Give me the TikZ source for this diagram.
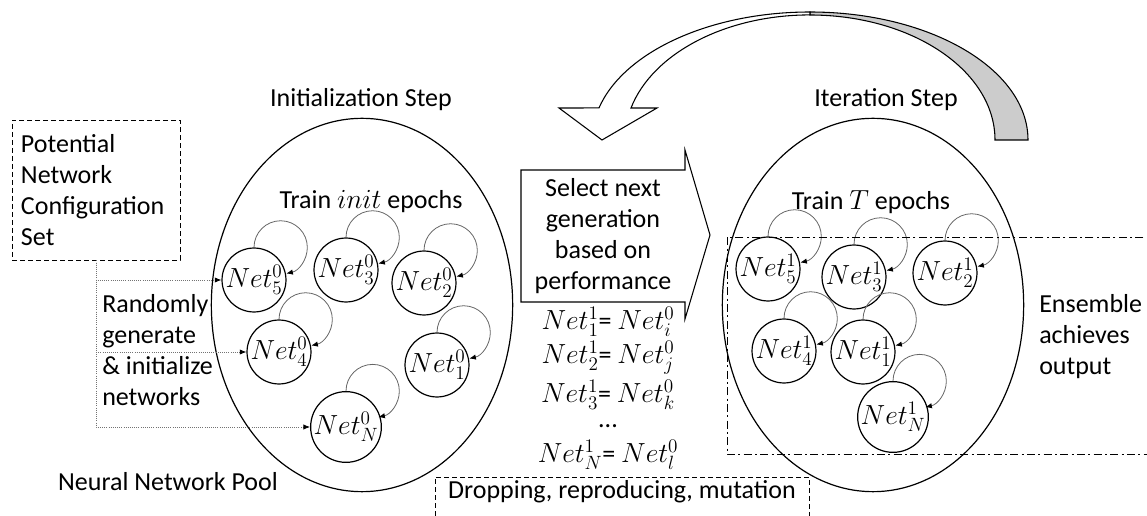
\documentclass[tikz,border=0pt]{standalone}
\usepackage{fontspec}
\setmainfont{Carlito}
\usetikzlibrary{shapes.geometric,arrows.meta}
\begin{document}
\begin{tikzpicture}[x=0.75pt,y=0.75pt,
  every node/.style={font=\fontsize{19.5pt}{23.25pt}\selectfont, inner sep=0pt},
  net/.style={draw, circle, line width=0.9pt, minimum size=46.5pt, inner sep=0pt},
  pool/.style={draw, ellipse, line width=0.9pt, minimum width=226pt, minimum height=280pt},
  tip/.style={-{Latex[length=5pt,width=4pt,color=black]}},
  selfloop/.style={draw=black!60, line width=0.6pt, tip},
  feed/.style={draw=black!55, densely dotted, line width=0.6pt, tip},
  dashbox/.style={draw, line width=0.6pt, dash pattern=on 3.5pt off 2.5pt},
  dashdotbox/.style={draw, line width=0.6pt, dash pattern=on 6pt off 2.5pt on 1.5pt off 2.5pt},
]
\useasboundingbox (0,0) rectangle (1147,-516);

% curved feedback arrow: back face (grey) and front face with head
\draw[line width=0.8pt, fill=black!20] (810,-12)
  arc[start angle=90, end angle=0, x radius=163.5pt, y radius=96pt]
  -- (995,-140)
  arc[start angle=0, end angle=90, x radius=138.75pt, y radius=93.75pt]
  -- cycle;
\draw[line width=0.8pt, fill=white] (810,-12)
  arc[start angle=90, end angle=165.5, x radius=163.5pt, y radius=96pt]
  -- (559,-108) -- (602,-140) -- (657,-108) -- (631,-108)
  arc[start angle=165.2, end angle=90, x radius=138.75pt, y radius=93.75pt]
  -- cycle;

% the two network pools
\node[pool] (poolA) at (362,-305) {};
\node[pool] (poolB) at (873,-305) {};
\node (stepA) at (361,-100) {Initialization Step};
\node (stepB) at (886,-100) {Iteration Step};
\node (trainA) at (371,-202) {Train $init$ epochs};
\node (trainB) at (871,-202) {Train $T$ epochs};
\node (poolname) at (168,-482) {Neural Network Pool};

% configuration set and random initialisation
\node[dashbox, minimum width=126pt, minimum height=105pt, text width=112.5pt,
      inner xsep=6.75pt, align=left] (config) at (96,-190)
  {Potential\\Network\\Configuration\\Set};
\node[anchor=west, align=left] (randinit) at (102,-350)
  {Randomly\\generate\\\& initialize\\networks};

% generation 0
\node[net] (a5) at (254,-280) {$Net^0_5$};
\node[net] (a3) at (346,-270) {$Net^0_3$};
\node[net] (a2) at (424,-283) {$Net^0_2$};
\node[net] (a4) at (279,-352) {$Net^0_4$};
\node[net] (a1) at (437,-365) {$Net^0_1$};
\node[net] (aN) at (346,-427) {$Net^0_N$};

% generation 1
\node[net] (b5) at (768,-269) {$Net^1_5$};
\node[net] (b3) at (854,-277) {$Net^1_3$};
\node[net] (b2) at (945,-273) {$Net^1_2$};
\node[net] (b4) at (784,-351) {$Net^1_4$};
\node[net] (b1) at (863,-352) {$Net^1_1$};
\node[net] (bN) at (893,-417) {$Net^1_N$};

% training self-loops: three-quarter circles from the top round to the right side
\foreach \n in {a5,a3,a2,a4,a1,aN,b5,b3,b2,b4,b1,bN}
  \draw[selfloop] (\n.north) arc[start angle=180, end angle=-78, radius=20pt];

% feeding the pool
\draw[feed] (config.south) |- (a5.west);
\draw[feed] (config.south) |- (a4.west);
\draw[feed] (config.south) |- (aN.west);

% selection callout
\node[align=center] (select) at (603,-236)
  {Select next\\generation\\based on\\performance};
\draw[line width=0.8pt] (521,-170) -- (685,-170) -- (685,-150) -- (710,-235)
  -- (685,-319) -- (685,-302) -- (521,-302) -- cycle;

% mapping between generations
\node (eqa) at (608,-322) {$Net^1_1$= $Net^0_i$};
\node (eqb) at (608,-358) {$Net^1_2$= $Net^0_j$};
\node (eqc) at (608,-395) {$Net^1_3$= $Net^0_k$};
\node (eqd) at (608,-426) {...};
\node (eqe) at (608,-455) {$Net^1_N$= $Net^0_l$};

\node (ops) at (622,-492) {Dropping, reproducing, mutation};
\draw[dashbox] (435,-540) |- (809,-477) -- (809,-540);

% ensemble region
\draw[dashdotbox] (1160,-237) -- (727,-237) -- (727,-454) -- (1160,-454);
\node[anchor=west, align=left] (ensemble) at (1039,-337)
  {Ensemble\\achieves\\output};
\end{tikzpicture}
\end{document}
